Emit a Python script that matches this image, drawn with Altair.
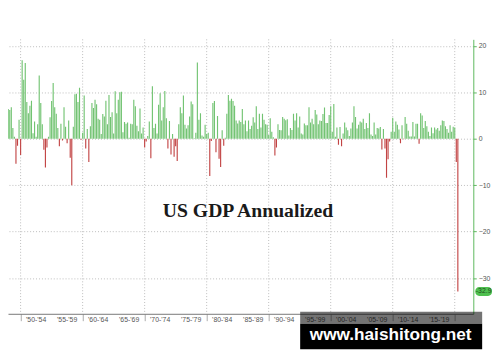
import altair as alt
import pandas as pd

# ---------------- data ----------------
start_year = 1947
start_quarter = 2
gdp_growth = [
    -1.0, -0.8, 6.4,                 # 1947 Q2-Q4
    6.2, 6.8, 2.3, 0.4,              # 1948
    -5.4, -1.5, 4.1, -3.5,           # 1949
    16.9, 12.7, 16.3, 7.9,           # 1950
    5.5, 7.1, 8.2, 1.2,              # 1951
    3.7, 0.4, 3.1, 13.6,             # 1952
    7.7, 3.1, -2.4, -6.2,            # 1953
    -1.9, 0.4, 4.6, 8.1,             # 1954
    12.0, 6.8, 5.4, 2.3,             # 1955
    -1.6, 3.2, -0.4, 6.8,            # 1956
    2.6, -1.0, 3.9, -4.1,            # 1957
    -10.0, 2.6, 9.6, 9.7,            # 1958
    7.9, 11.0, -0.2, 1.3,            # 1959
    9.3, -2.1, 2.1, -5.0,            # 1960
    2.7, 7.7, 6.6, 8.4,              # 1961
    7.4, 4.3, 4.1, 1.0,              # 1962
    5.3, 4.8, 8.2, 3.1,              # 1963
    9.4, 4.7, 5.7, 1.1,              # 1964
    10.2, 5.5, 8.4, 10.0,            # 1965
    10.1, 1.4, 3.6, 3.2,             # 1966
    3.5, 0.2, 3.2, 3.1,              # 1967
    8.4, 7.0, 2.8, 1.6,              # 1968
    6.5, 1.1, 2.4, -1.9,             # 1969
    -0.6, 0.6, 3.7, -4.2,            # 1970
    11.3, 2.3, 3.2, 1.1,             # 1971
    7.3, 9.8, 3.9, 6.8,              # 1972
    10.3, 4.4, -2.1, 3.8,            # 1973
    -3.4, 1.0, -3.9, -1.6,           # 1974
    -4.8, 3.1, 6.8, 5.5,             # 1975
    9.3, 3.0, 2.2, 2.9,              # 1976
    4.8, 8.0, 7.4, 0.1,              # 1977
    1.3, 16.4, 4.1, 5.5,             # 1978
    0.7, 0.4, 3.0, 1.0,              # 1979
    1.3, -8.0, -0.5, 7.7,            # 1980
    8.1, -2.9, 4.9, -4.3,            # 1981
    -6.1, 1.8, -1.5, 0.2,            # 1982
    5.4, 9.4, 8.2, 8.6,              # 1983
    8.1, 7.1, 3.9, 3.3,              # 1984
    3.9, 3.6, 6.4, 3.1,              # 1985
    3.9, 1.6, 3.9, 2.1,              # 1986
    2.8, 4.6, 3.5, 7.0,              # 1987
    2.1, 5.4, 2.4, 5.4,              # 1988
    4.1, 3.1, 3.0, 0.8,              # 1989
    4.4, 1.5, 0.3, -3.6,             # 1990
    -1.9, 3.1, 1.9, 1.8,             # 1991
    4.7, 4.3, 4.0, 4.2,              # 1992
    0.7, 2.3, 1.9, 5.4,              # 1993
    3.9, 5.5, 2.4, 4.8,              # 1994
    1.1, 0.9, 3.3, 2.9,              # 1995
    2.9, 6.8, 3.5, 4.3,              # 1996
    3.1, 6.2, 5.2, 3.1,              # 1997
    3.9, 3.8, 5.3, 6.7,              # 1998
    3.4, 3.4, 5.1, 7.0,              # 1999
    1.5, 7.5, 0.4, 2.4,              # 2000
    -1.3, 2.5, -1.6, 1.1,            # 2001
    3.5, 2.4, 1.8, 0.6,              # 2002
    2.2, 3.5, 7.0, 4.7,              # 2003
    2.2, 3.0, 3.7, 3.5,              # 2004
    4.3, 2.1, 3.4, 2.3,              # 2005
    5.5, 0.9, 0.6, 3.5,              # 2006
    0.9, 2.3, 2.2, 2.5,              # 2007
    -2.3, 2.1, -2.1, -8.4,           # 2008
    -4.4, -0.6, 1.5, 4.5,            # 2009
    1.5, 3.7, 3.0, 2.0,              # 2010
    -1.0, 2.9, -0.1, 4.7,            # 2011
    3.2, 1.7, 0.5, 0.5,              # 2012
    3.6, 0.5, 3.2, 3.2,              # 2013
    -1.1, 5.5, 5.0, 2.3,             # 2014
    3.8, 2.7, 1.5, 0.6,              # 2015
    2.4, 1.2, 2.4, 2.0,              # 2016
    2.3, 1.7, 2.9, 3.9,              # 2017
    3.8, 2.7, 2.1, 1.3,              # 2018
    2.9, 1.5, 2.6, 2.4,              # 2019
    -5.0, -32.9,                     # 2020 Q1-Q2
]

period_labels = ["'50-'54", "'55-'59", "'60-'64", "'65-'69", "'70-'74", "'75-'79",
                 "'80-'84", "'85-'89", "'90-'94", "'95-'99", "'00-'04", "'05-'09",
                 "'10-'14", "'15-'19"]
period_starts = [1950, 1955, 1960, 1965, 1970, 1975, 1980, 1985, 1990, 1995,
                 2000, 2005, 2010, 2015]
separator_years = [1950, 1955, 1960, 1965, 1970, 1975, 1980, 1985, 1990, 1995,
                   2000, 2005, 2010, 2015, 2020]
grid_years = [1950, 1960, 1970, 1980, 1990, 2000, 2010, 2020]
y_ticks = [-30, -20, -10, 0, 10, 20]
title_text = "US GDP Annualized"
watermark_text = "www.haishitong.net"

# ---------------- tables ----------------
rows = []
for i, v in enumerate(gdp_growth):
    qi = start_quarter - 1 + i
    yr = start_year + qi // 4
    q = qi % 4 + 1
    rows.append({"x": yr + q / 4.0, "value": v, "sign": "pos" if v >= 0 else "neg"})
bars_df = pd.DataFrame(rows)
grid_df = pd.DataFrame({"x": grid_years})
period_df = pd.DataFrame({"x": [s + 2.5 for s in period_starts], "label": period_labels})
last_df = pd.DataFrame({"value": [gdp_growth[-1]], "label": [f"{gdp_growth[-1]:.1f}"]})
one = pd.DataFrame({"a": [0]})

W, H = 473, 279
GREEN = "#72c372"
RED = "#c24444"
AXIS_GREEN = "#5cb85c"

x_scale = alt.Scale(domain=[1948.76, 2022.2], nice=False, zero=False)
y_scale = alt.Scale(domain=[-37.7, 21.4], nice=False, zero=False)

vgrid = alt.Chart(grid_df).mark_rule(color="#bdbdbd", strokeDash=[1, 2], strokeWidth=1).encode(
    x=alt.X("x:Q")
)

bars = alt.Chart(bars_df).mark_bar(size=1.15, clip=True).encode(
    x=alt.X("x:Q", scale=x_scale,
            axis=alt.Axis(values=separator_years, labels=False, tickSize=7, grid=False,
                          domainColor="#777", tickColor="#aaa", title=None)),
    y=alt.Y("value:Q", scale=y_scale,
            axis=alt.Axis(orient="right", values=y_ticks, grid=True, gridDash=[1, 2],
                          gridColor="#bdbdbd", domainColor=AXIS_GREEN, domainWidth=1,
                          tickColor=AXIS_GREEN, tickSize=3, labelFontSize=7,
                          labelColor="#555", labelFont="Liberation Sans",
                          labelPadding=2, title=None)),
    color=alt.Color("sign:N", scale=alt.Scale(domain=["pos", "neg"], range=[GREEN, RED]),
                    legend=None),
)

period_text = alt.Chart(period_df).mark_text(
    fontSize=7, font="Liberation Sans", color="#555", baseline="middle"
).encode(x=alt.X("x:Q"), y=alt.value(H + 6), text="label:N")

pill = alt.Chart(last_df).mark_rect(
    color="#4fc04f", cornerRadius=4, yOffset=-4.5, y2Offset=4.5
).encode(x=alt.value(475), x2=alt.value(492), y=alt.Y("value:Q"), y2=alt.Y2("value"))

pill_text = alt.Chart(last_df).mark_text(
    fontSize=7, font="Liberation Sans", color="#1f4f1f", align="center", baseline="middle"
).encode(x=alt.value(483.5), y=alt.Y("value:Q"), text="label:N")

title = alt.Chart(one).mark_text(
    font="Liberation Serif", fontWeight="bold", fontSize=20, color="#1a1a1a",
    align="center", baseline="middle"
).encode(x=alt.value(244), y=alt.value(175), text=alt.value(title_text))

wm_band = alt.Chart(one).mark_rect(color="#000000", opacity=0.55).encode(
    x=alt.value(297), x2=alt.value(482), y=alt.value(277), y2=alt.value(289)
)
wm_box = alt.Chart(one).mark_rect(color="#000000").encode(
    x=alt.value(297), x2=alt.value(482), y=alt.value(289), y2=alt.value(315)
)
wm_text = alt.Chart(one).mark_text(
    font="Liberation Sans", fontWeight="bold", fontSize=17.5, color="#ffffff",
    align="center", baseline="middle"
).encode(x=alt.value(389), y=alt.value(301), text=alt.value(watermark_text))

chart = alt.layer(
    vgrid, bars, period_text, pill, pill_text, title, wm_band, wm_box, wm_text
).properties(
    width=W, height=H,
    autosize=alt.AutoSizeParams(type="none"),
    padding={"left": 0, "top": 29, "right": 19, "bottom": 38},
    background="white",
).configure_view(stroke=None)

chart.save("out.html", embed_options={"renderer": "svg", "actions": False})
